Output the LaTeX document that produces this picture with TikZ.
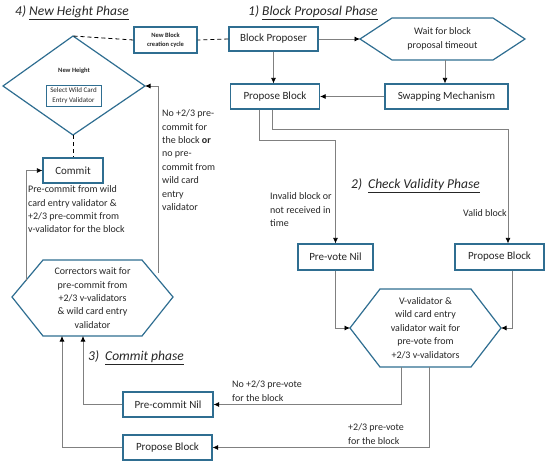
\documentclass[tikz,border=0pt]{standalone}
\usepackage{fontspec}
\setmainfont{Carlito}
\usetikzlibrary{arrows.meta}
\definecolor{boxblue}{RGB}{47,110,145}
\definecolor{linegray}{RGB}{128,128,128}
\definecolor{txt}{RGB}{38,38,38}
\tikzset{
  box/.style={draw=boxblue, line width=1.2pt, fill=white, text=txt, inner sep=0pt,
    align=center, font=\fontsize{11}{13}\selectfont},
  hexa/.style={draw=boxblue, line width=1.2pt, fill=white},
  txtlbl/.style={text=txt, inner sep=0pt, align=left, font=\fontsize{10}{13.4}\selectfont},
  phase/.style={text=black!85, inner sep=0pt, font=\fontsize{13.5}{15}\selectfont\itshape},
  conn/.style={draw=linegray, line width=0.7pt, -{Latex[color=black,length=5.5pt,width=5pt]}},
  dash line/.style={draw=black, line width=0.8pt, dashed, dash pattern=on 4pt off 3pt}
}
\begin{document}
\begin{tikzpicture}[x=1pt,y=-1pt]
  \useasboundingbox (0,0) rectangle (550,466);
  % phase titles
  \node [phase, anchor=west] (t4) at (15,13) {4) \underline{New Height Phase}};
  \node [phase, anchor=west] (t1) at (248,13) {1) \underline{Block Proposal Phase}};
  \node [phase, anchor=west] (t2) at (351,186) {2)\ \ \underline{Check Validity Phase}};
  \node [phase, anchor=west] (t3) at (88,358) {3)\ \ \underline{Commit phase}};
  % new height diamond
  \coordinate (dtop) at (73,36);
  \coordinate (dleft) at (3,86);
  \coordinate (dright) at (145,86);
  \coordinate (dbot) at (73,135);
  \draw [hexa] (dtop) -- (dright) -- (dbot) -- (dleft) -- cycle;
  \node [text=txt, inner sep=0pt, font=\fontsize{6.5}{8}\selectfont\bfseries] (newheight) at (74,71) {New Height};
  \node [box, line width=0.8pt, minimum width=55, minimum height=21,
    font=\fontsize{7}{9.5}\selectfont] (wildcard) at (73.5,95.5) {Select Wild Card\\Entry Validator};
  % phase 1
  \node [box, minimum width=89, minimum height=24] (proposer) at (273.5,39) {Block Proposer};
  \node [box, minimum width=63, minimum height=26,
    font=\fontsize{6.5}{9.5}\selectfont\bfseries] (cycle) at (165.5,40) {New Block\\creation cycle};
  \coordinate (wleft) at (360,39);
  \coordinate (wright) at (525,39);
  \coordinate (wbot) at (445,60);
  \draw [hexa] (wleft) -- (392,18) -- (493,18) -- (wright) -- (493,60) -- (392,60) -- cycle;
  \node [text=txt, align=center, font=\fontsize{10}{13.4}\selectfont] (wait) at (442.5,39) {Wait for block\\proposal timeout};
  \node [box, minimum width=89, minimum height=25] (propose1) at (275,96.5) {Propose Block};
  \node [box, minimum width=123, minimum height=25] (swap) at (446.5,96.5) {Swapping Mechanism};
  % phase 2
  \node [box, minimum width=75, minimum height=26] (prevote) at (335.5,257) {Pre-vote Nil};
  \node [box, minimum width=89, minimum height=26] (propose2) at (499.5,257) {Propose Block};
  \coordinate (vleft) at (350,328);
  \coordinate (vright) at (501,328);
  \coordinate (vbot1) at (401,367);
  \coordinate (vbot2) at (429,367);
  \draw [hexa] (vleft) -- (380,289) -- (471,289) -- (vright) -- (471,367) -- (380,367) -- cycle;
  \node [text=txt, align=center, font=\fontsize{10}{13.4}\selectfont] (vwait) at (425.5,328)
    {V-validator \&\\wild card entry\\validator wait for\\pre-vote from\\+2/3 v-validators};
  % phase 3
  \node [box, minimum width=90, minimum height=25] (precommit) at (168,404.5) {Pre-commit Nil};
  \node [box, minimum width=89, minimum height=25] (propose3) at (167.5,447.5) {Propose Block};
  \coordinate (cleft) at (26,281);
  \coordinate (cright) at (158,273);
  \coordinate (cbot1) at (62,336);
  \coordinate (cbot2) at (83,336);
  \draw [hexa] (12,297) -- (43,260) -- (142,260) -- (173,297) -- (142,336) -- (43,336) -- cycle;
  \node [text=txt, align=center, font=\fontsize{10}{13.4}\selectfont] (correctors) at (92.5,298)
    {Correctors wait for\\pre-commit from\\+2/3 v-validators\\\& wild card entry\\validator};
  \node [box, minimum width=60, minimum height=25] (commit) at (73,170.5) {Commit};
  % connectors
  \draw [dash line] (proposer.west) -- (cycle.east);
  \draw [dash line] (cycle.west) -- (dtop);
  \draw [dash line] (dbot) -- (commit.north);
  \draw [conn] (proposer.south) -- (proposer.south |- propose1.north);
  \draw [conn] (proposer.east) -- (wleft);
  \draw [conn] (wbot) -- (wbot |- swap.north);
  \draw [conn] (swap.west) -- (propose1.east);
  \draw [conn] ([xshift=-3]propose1.south) -- ++(0,20) -| ([xshift=8.5]propose2.north);
  \draw [conn] ([xshift=-16]propose1.south) -- ++(0,31) -| (prevote.north);
  \draw [conn] (prevote.south) |- (vleft);
  \draw [conn] ([xshift=12.5]propose2.south) |- (vright);
  \draw [conn] (vbot1) |- (precommit.east);
  \draw [conn] (vbot2) |- (propose3.east);
  \draw [conn] (precommit.west) -| (cbot2);
  \draw [conn] (propose3.west) -| (cbot1);
  \draw [conn] (cleft) |- (commit.west);
  \draw [conn] (cright) |- (dright);
  % connector labels
  \node [txtlbl, anchor=north west] (lblcommit) at (28,185.5)
    {Pre-commit from wild\\card entry validator \&\\+2/3 pre-commit from\\v-validator for the block};
  \node [txtlbl, anchor=north west] (lblnocommit) at (162,109.5)
    {No +2/3 pre-\\commit for\\the block \textbf{or}\\no pre-\\commit from\\wild card\\entry\\validator};
  \node [txtlbl, anchor=north west] (lblinvalid) at (270,192.5)
    {Invalid block or\\not received in\\time};
  \node [txtlbl, anchor=east] (lblvalid) at (507,213.5) {Valid block};
  \node [txtlbl, anchor=west] (lblnovote) at (232,391) {No +2/3 pre-vote\\for the block};
  \node [txtlbl, anchor=west] (lblvote) at (348,434) {+2/3 pre-vote\\for the block};
\end{tikzpicture}
\end{document}
